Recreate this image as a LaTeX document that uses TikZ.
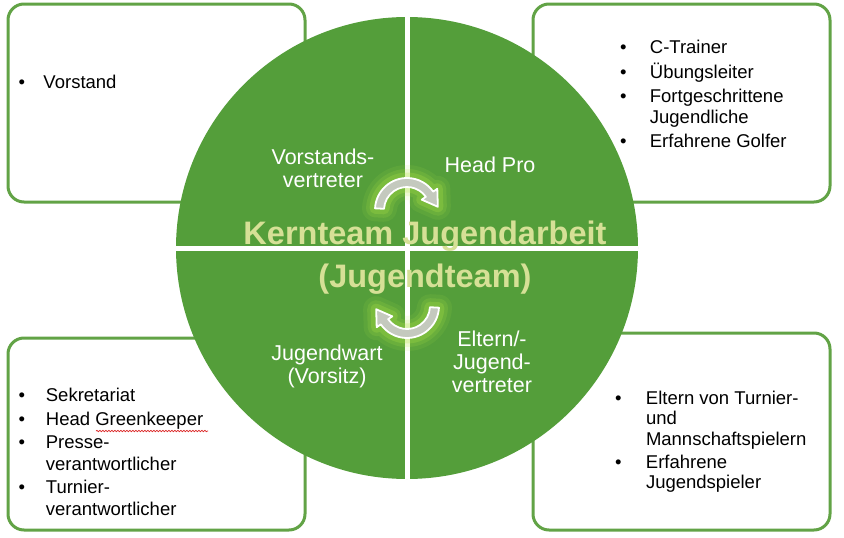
\documentclass[tikz,border=0pt]{standalone}
\usepackage{fontspec}
\setmainfont{Liberation Sans}
\usepackage{tikz}
\usetikzlibrary{positioning, decorations.pathmorphing}

\definecolor{hubgreen}{RGB}{84,158,58}
\definecolor{boxgreen}{RGB}{98,163,70}
\definecolor{titlecol}{RGB}{214,224,150}
\definecolor{glowcol}{RGB}{180,230,70}
\definecolor{arrowgray}{RGB}{196,201,190}
\definecolor{spellred}{RGB}{220,40,40}

\newcommand{\turnpath}{(183:32) arc[start angle=183, end angle=325, radius=32] -- (325:37) -- (354:31) -- (325:18) -- (325:23) arc[start angle=325, end angle=183, radius=23] -- cycle}

\begin{document}
\begin{tikzpicture}[x=1pt, y=-1pt]
\tikzstyle{every node}+=[inner sep=0pt]
\tikzstyle{infobox}=[draw=boxgreen, line width=3pt, rounded corners=16pt, fill=white]
\tikzstyle{hub}=[circle, fill=hubgreen, minimum size=462pt]
\tikzstyle{gap}=[white, line width=5pt]
\tikzstyle{quad}=[text=white, align=center, font=\fontsize{21.5}{23}\selectfont]
\tikzstyle{title}=[align=center, font=\fontsize{32.5}{43}\selectfont\bfseries]
\tikzstyle{turnarrow}=[fill=arrowgray, draw=white, line width=1.8pt, line join=round]
\tikzstyle{halo}=[draw=glowcol, line join=round]
\tikzstyle{lst}=[anchor=north west]
\useasboundingbox (0,0) rectangle (844,538);

% outer boxes
\node[infobox, minimum width=297pt, minimum height=198pt] (boxvs) at (156.5,103) {};
\node[infobox, minimum width=297pt, minimum height=198pt] (boxhp) at (681.5,103) {};
\node[infobox, minimum width=297pt, minimum height=192pt] (boxjw) at (156.5,434) {};
\node[infobox, minimum width=297pt, minimum height=197pt] (boxev) at (681.5,431.5) {};

\node[lst, font=\fontsize{18.5}{21}\selectfont] (listvs) at (18.5,73.6) {\begin{tabular}{@{}p{24.8pt}@{}l@{}}
\textbullet & Vorstand
\end{tabular}};
\node[lst, font=\fontsize{18.5}{21}\selectfont] (listhp) at (620,38.6) {\begin{tabular}{@{}p{29.7pt}@{}l@{}}
\textbullet & C-Trainer\\[3pt]
\textbullet & Übungsleiter\\[3pt]
\textbullet & Fortgeschrittene\\
 & Jugendliche\\[3pt]
\textbullet & Erfahrene Golfer
\end{tabular}};
\node[lst, font=\fontsize{18.5}{21.5}\selectfont] (listjw) at (18.5,386.6) {\begin{tabular}{@{}p{27.2pt}@{}l@{}}
\textbullet & Sekretariat\\[2pt]
\textbullet & Head Greenkeeper\\[2pt]
\textbullet & Presse-\\
 & verantwortlicher\\[2pt]
\textbullet & Turnier-\\
 & verantwortlicher
\end{tabular}};
\node[lst, font=\fontsize{18.5}{20.5}\selectfont] (listev) at (615,389.6) {\begin{tabular}{@{}p{30.8pt}@{}l@{}}
\textbullet & Eltern von Turnier-\\
 & und\\
 & Mannschaftspielern\\[2.5pt]
\textbullet & Erfahrene\\
 & Jugendspieler
\end{tabular}};
\draw[spellred, line width=0.7pt, decorate, decoration={snake, amplitude=0.7pt, segment length=3pt}] (96,431) -- (208,431);

% the team circle
\node[hub] (hub) at (407,248) {};
\draw[gap] (hub.north) -- (hub.south);
\draw[gap] (hub.west) -- (hub.east);

% cycle arrows
\coordinate (upturn) at (407,210);
\coordinate (downturn) at (407,306);
\foreach \c/\r in {upturn/0, downturn/180} {
  \begin{scope}[shift={(\c)}, rotate=\r]
    \foreach \w/\o in {26/0.10, 18/0.16, 11/0.24}
      \draw[halo, line width=\w pt, opacity=\o] \turnpath;
    \filldraw[turnarrow] \turnpath;
  \end{scope}
}

\node[title, text=titlecol] (title) at (425,258) {Kernteam Jugendarbeit\\(Jugendteam)};

\node[quad] (vertreter) at (323,168) {Vorstands-\\vertreter};
\node[quad] (headpro) at (490,165) {Head Pro};
\node[quad] (jugendwart) at (327,366) {Jugendwart\\(Vorsitz)};
\node[quad] (eltern) at (492,362) {Eltern/-\\Jugend-\\vertreter};
\end{tikzpicture}
\end{document}
